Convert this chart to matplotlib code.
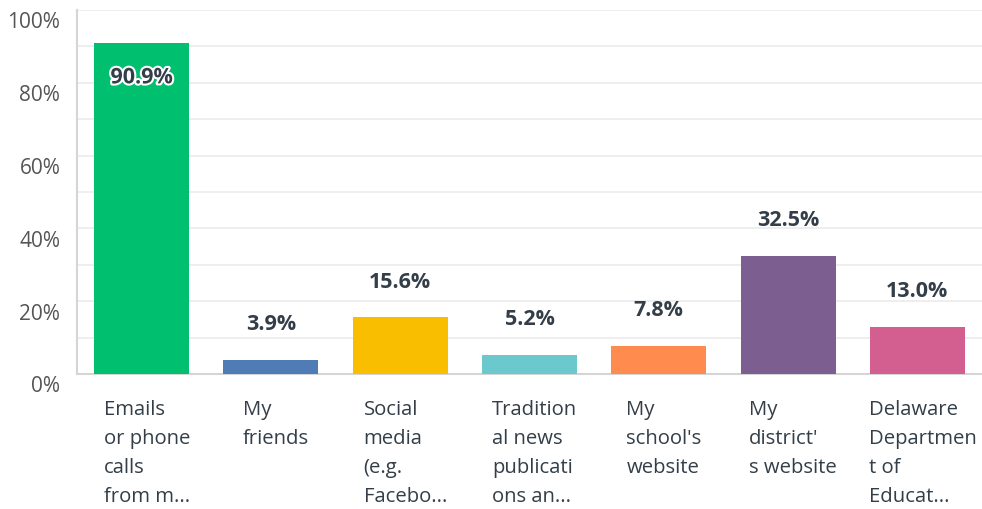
import matplotlib
matplotlib.use('Agg')
import matplotlib.pyplot as plt
import matplotlib.transforms as mtransforms
import matplotlib.patheffects as pe

categories = [
    "Emails\nor phone\ncalls\nfrom m...",
    "My\nfriends",
    "Social\nmedia\n(e.g.\nFacebo...",
    "Tradition\nal news\npublicati\nons an...",
    "My\nschool's\nwebsite",
    "My\ndistrict'\ns website",
    "Delaware\nDepartmen\nt of\nEducat...",
]
values = [90.9, 3.9, 15.6, 5.2, 7.8, 32.5, 13.0]
colors = ["#00BF6F", "#507CB6", "#F9BE00", "#6BC8CD", "#FF8B4F", "#7D5E90", "#D25F90"]
yticks = [0, 20, 40, 60, 80, 100]

plt.rcParams['font.family'] = ['Open Sans', 'DejaVu Sans']
text_color = "#333E48"

fig = plt.figure(figsize=(9.82, 5.10), dpi=100)
ax = fig.add_axes([77 / 982, (510 - 375) / 510, 905 / 982, (375 - 11) / 510])

x = list(range(len(values)))
bar_w = 0.735
ax.bar(x, values, width=bar_w, color=colors, zorder=3)

ax.set_xlim(-0.5, len(values) - 0.5)
ax.set_ylim(0, 100)
ax.set_yticks(yticks)
ax.set_yticklabels([f"{t}%" for t in yticks], fontsize=15, color="#555555")
ax.set_yticks(range(0, 101, 10), minor=True)
ax.yaxis.grid(True, which='both', color="#EBEBEB", linewidth=1.2, zorder=0)
ax.tick_params(axis='y', which='both', length=0, pad=12)
ax.set_xticks([])
for s in ['top', 'right']:
    ax.spines[s].set_visible(False)
ax.spines['left'].set_color("#D5D5D5")
ax.spines['bottom'].set_color("#D5D5D5")
ax.spines['left'].set_linewidth(1.5)
ax.spines['bottom'].set_linewidth(1.5)
# labels sit a little below their gridlines
shift = mtransforms.ScaledTranslation(0, -0.12, fig.dpi_scale_trans)
for lbl in ax.get_yticklabels():
    lbl.set_verticalalignment('center')
    lbl.set_transform(lbl.get_transform() + shift)

for i, v in enumerate(values):
    if v > 80:
        ax.annotate(f"{v:.1f}%", (i, v), xytext=(0, -25), textcoords='offset points',
                    ha='center', va='center', fontsize=15.5, fontweight='bold', color=text_color,
                    path_effects=[pe.withStroke(linewidth=3, foreground='white')], zorder=4)
    else:
        ax.annotate(f"{v:.1f}%", (i, v), xytext=(0, 26), textcoords='offset points',
                    ha='center', va='center', fontsize=15.5, fontweight='bold', color=text_color,
                    zorder=4)

trans = mtransforms.blended_transform_factory(ax.transData, fig.transFigure)
for i, c in enumerate(categories):
    ax.text(i + 0.04, (510 - 400) / 510, c, transform=trans, ha='center', va='top',
            multialignment='left', fontsize=14.6, color=text_color, linespacing=1.6)

fig.savefig("out.png", dpi=100)
